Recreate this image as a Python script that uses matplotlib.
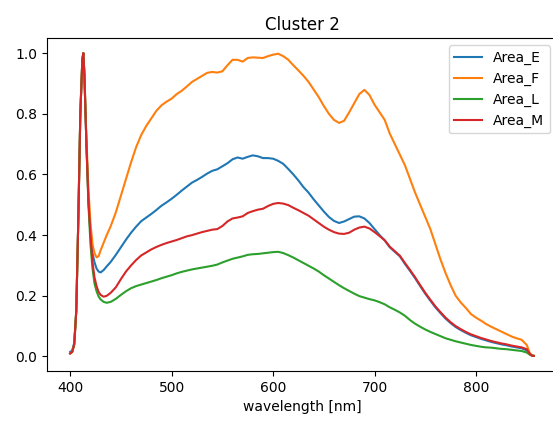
import numpy as np
import matplotlib
matplotlib.use("Agg")
import matplotlib.pyplot as plt

wavelength = [400, 402, 404, 406, 408, 410, 412, 413, 414, 416, 418, 420, 422, 424, 426, 428, 430,
              433, 436, 440, 445, 450, 455, 460, 465, 470, 475, 480, 485, 490, 495, 500, 505, 510,
              515, 520, 525, 530, 535, 540, 545, 550, 555, 560, 565, 570, 575, 580, 585, 590, 595,
              600, 605, 610, 615, 620, 625, 630, 635, 640, 645, 650, 655, 660, 665, 670, 675, 680,
              685, 690, 695, 700, 705, 710, 715, 720, 725, 730, 735, 740, 745, 750, 755, 760, 765,
              770, 775, 780, 785, 790, 795, 800, 805, 810, 815, 820, 825, 830, 835, 840, 845, 850,
              853, 855, 857]

area_e = [0.015, 0.02, 0.045, 0.15, 0.45, 0.80, 0.98, 1.0, 0.93, 0.70, 0.52, 0.41, 0.34, 0.31, 0.29,
          0.28, 0.277, 0.285, 0.297, 0.312, 0.335, 0.36, 0.385, 0.408, 0.428, 0.446, 0.458, 0.47,
          0.483, 0.497, 0.508, 0.52, 0.533, 0.547, 0.56, 0.573, 0.582, 0.592, 0.603, 0.612, 0.617,
          0.627, 0.637, 0.65, 0.656, 0.652, 0.658, 0.663, 0.66, 0.654, 0.654, 0.652, 0.645, 0.635,
          0.618, 0.60, 0.58, 0.558, 0.54, 0.518, 0.498, 0.478, 0.46, 0.447, 0.44, 0.445, 0.453,
          0.461, 0.462, 0.455, 0.44, 0.42, 0.40, 0.383, 0.36, 0.345, 0.33, 0.305, 0.282, 0.258,
          0.232, 0.207, 0.184, 0.162, 0.143, 0.125, 0.11, 0.097, 0.087, 0.078, 0.07, 0.064, 0.058,
          0.053, 0.048, 0.044, 0.04, 0.037, 0.033, 0.03, 0.027, 0.02, 0.008, 0.003, 0.002]

area_f = [0.01, 0.015, 0.04, 0.15, 0.45, 0.80, 0.98, 1.0, 0.93, 0.72, 0.55, 0.44, 0.37, 0.34, 0.327,
          0.33, 0.35, 0.375, 0.40, 0.43, 0.475, 0.53, 0.585, 0.64, 0.69, 0.73, 0.76, 0.785, 0.81,
          0.828, 0.84, 0.85, 0.865, 0.876, 0.89, 0.905, 0.915, 0.925, 0.935, 0.938, 0.936, 0.94,
          0.96, 0.978, 0.978, 0.972, 0.984, 0.986, 0.985, 0.984, 0.99, 0.995, 0.998, 0.99, 0.978,
          0.96, 0.943, 0.925, 0.905, 0.88, 0.855, 0.826, 0.80, 0.78, 0.77, 0.777, 0.805, 0.835,
          0.865, 0.879, 0.862, 0.83, 0.805, 0.78, 0.735, 0.70, 0.665, 0.63, 0.585, 0.54, 0.50,
          0.46, 0.42, 0.37, 0.32, 0.275, 0.235, 0.20, 0.178, 0.16, 0.14, 0.128, 0.118, 0.107,
          0.098, 0.09, 0.082, 0.074, 0.066, 0.06, 0.055, 0.038, 0.012, 0.004, 0.002]

area_l = [0.01, 0.015, 0.04, 0.15, 0.45, 0.80, 0.98, 1.0, 0.93, 0.70, 0.50, 0.37, 0.29, 0.24, 0.215,
          0.198, 0.188, 0.18, 0.177, 0.18, 0.19, 0.203, 0.215, 0.225, 0.232, 0.237, 0.242, 0.247,
          0.252, 0.258, 0.263, 0.268, 0.274, 0.279, 0.283, 0.287, 0.29, 0.293, 0.296, 0.299, 0.303,
          0.31, 0.316, 0.322, 0.326, 0.33, 0.335, 0.337, 0.338, 0.34, 0.342, 0.344, 0.345, 0.341,
          0.334, 0.326, 0.317, 0.308, 0.299, 0.29, 0.28, 0.268, 0.257, 0.246, 0.235, 0.225, 0.216,
          0.207, 0.199, 0.194, 0.189, 0.185, 0.179, 0.172, 0.162, 0.154, 0.145, 0.134, 0.12, 0.108,
          0.098, 0.089, 0.081, 0.074, 0.067, 0.06, 0.055, 0.05, 0.046, 0.042, 0.038, 0.035, 0.032,
          0.03, 0.029, 0.027, 0.025, 0.024, 0.022, 0.02, 0.018, 0.013, 0.006, 0.003, 0.002]

area_m = [0.01, 0.015, 0.04, 0.15, 0.45, 0.80, 0.98, 1.0, 0.93, 0.70, 0.51, 0.40, 0.31, 0.26, 0.232,
          0.213, 0.203, 0.197, 0.20, 0.21, 0.228, 0.255, 0.28, 0.30, 0.318, 0.333, 0.343, 0.353,
          0.361, 0.368, 0.374, 0.379, 0.384, 0.39, 0.396, 0.40, 0.405, 0.41, 0.414, 0.418, 0.42,
          0.43, 0.445, 0.455, 0.458, 0.462, 0.473, 0.479, 0.484, 0.487, 0.496, 0.503, 0.506, 0.504,
          0.499, 0.49, 0.482, 0.473, 0.464, 0.452, 0.44, 0.428, 0.418, 0.41, 0.405, 0.404, 0.408,
          0.418, 0.425, 0.428, 0.422, 0.41, 0.397, 0.383, 0.362, 0.347, 0.332, 0.308, 0.285, 0.261,
          0.235, 0.21, 0.187, 0.165, 0.146, 0.128, 0.113, 0.1, 0.09, 0.081, 0.073, 0.067, 0.061,
          0.056, 0.051, 0.047, 0.043, 0.04, 0.036, 0.033, 0.03, 0.024, 0.009, 0.003, 0.002]

series = [("Area_E", area_e), ("Area_F", area_f), ("Area_L", area_l), ("Area_M", area_m)]

fig = plt.figure(figsize=(5.53, 4.21), dpi=100)
ax = fig.add_axes([47 / 553, 50 / 421, 510 / 553, 333 / 421])
for name, vals in series:
    ax.plot(wavelength, vals, label=name)
ax.set_title("Cluster 2")
ax.set_xlabel("wavelength [nm]")
ax.set_xticks([400, 500, 600, 700, 800])
ax.legend(loc="upper right")
fig.savefig("out.png", dpi=100)
plt.close(fig)
